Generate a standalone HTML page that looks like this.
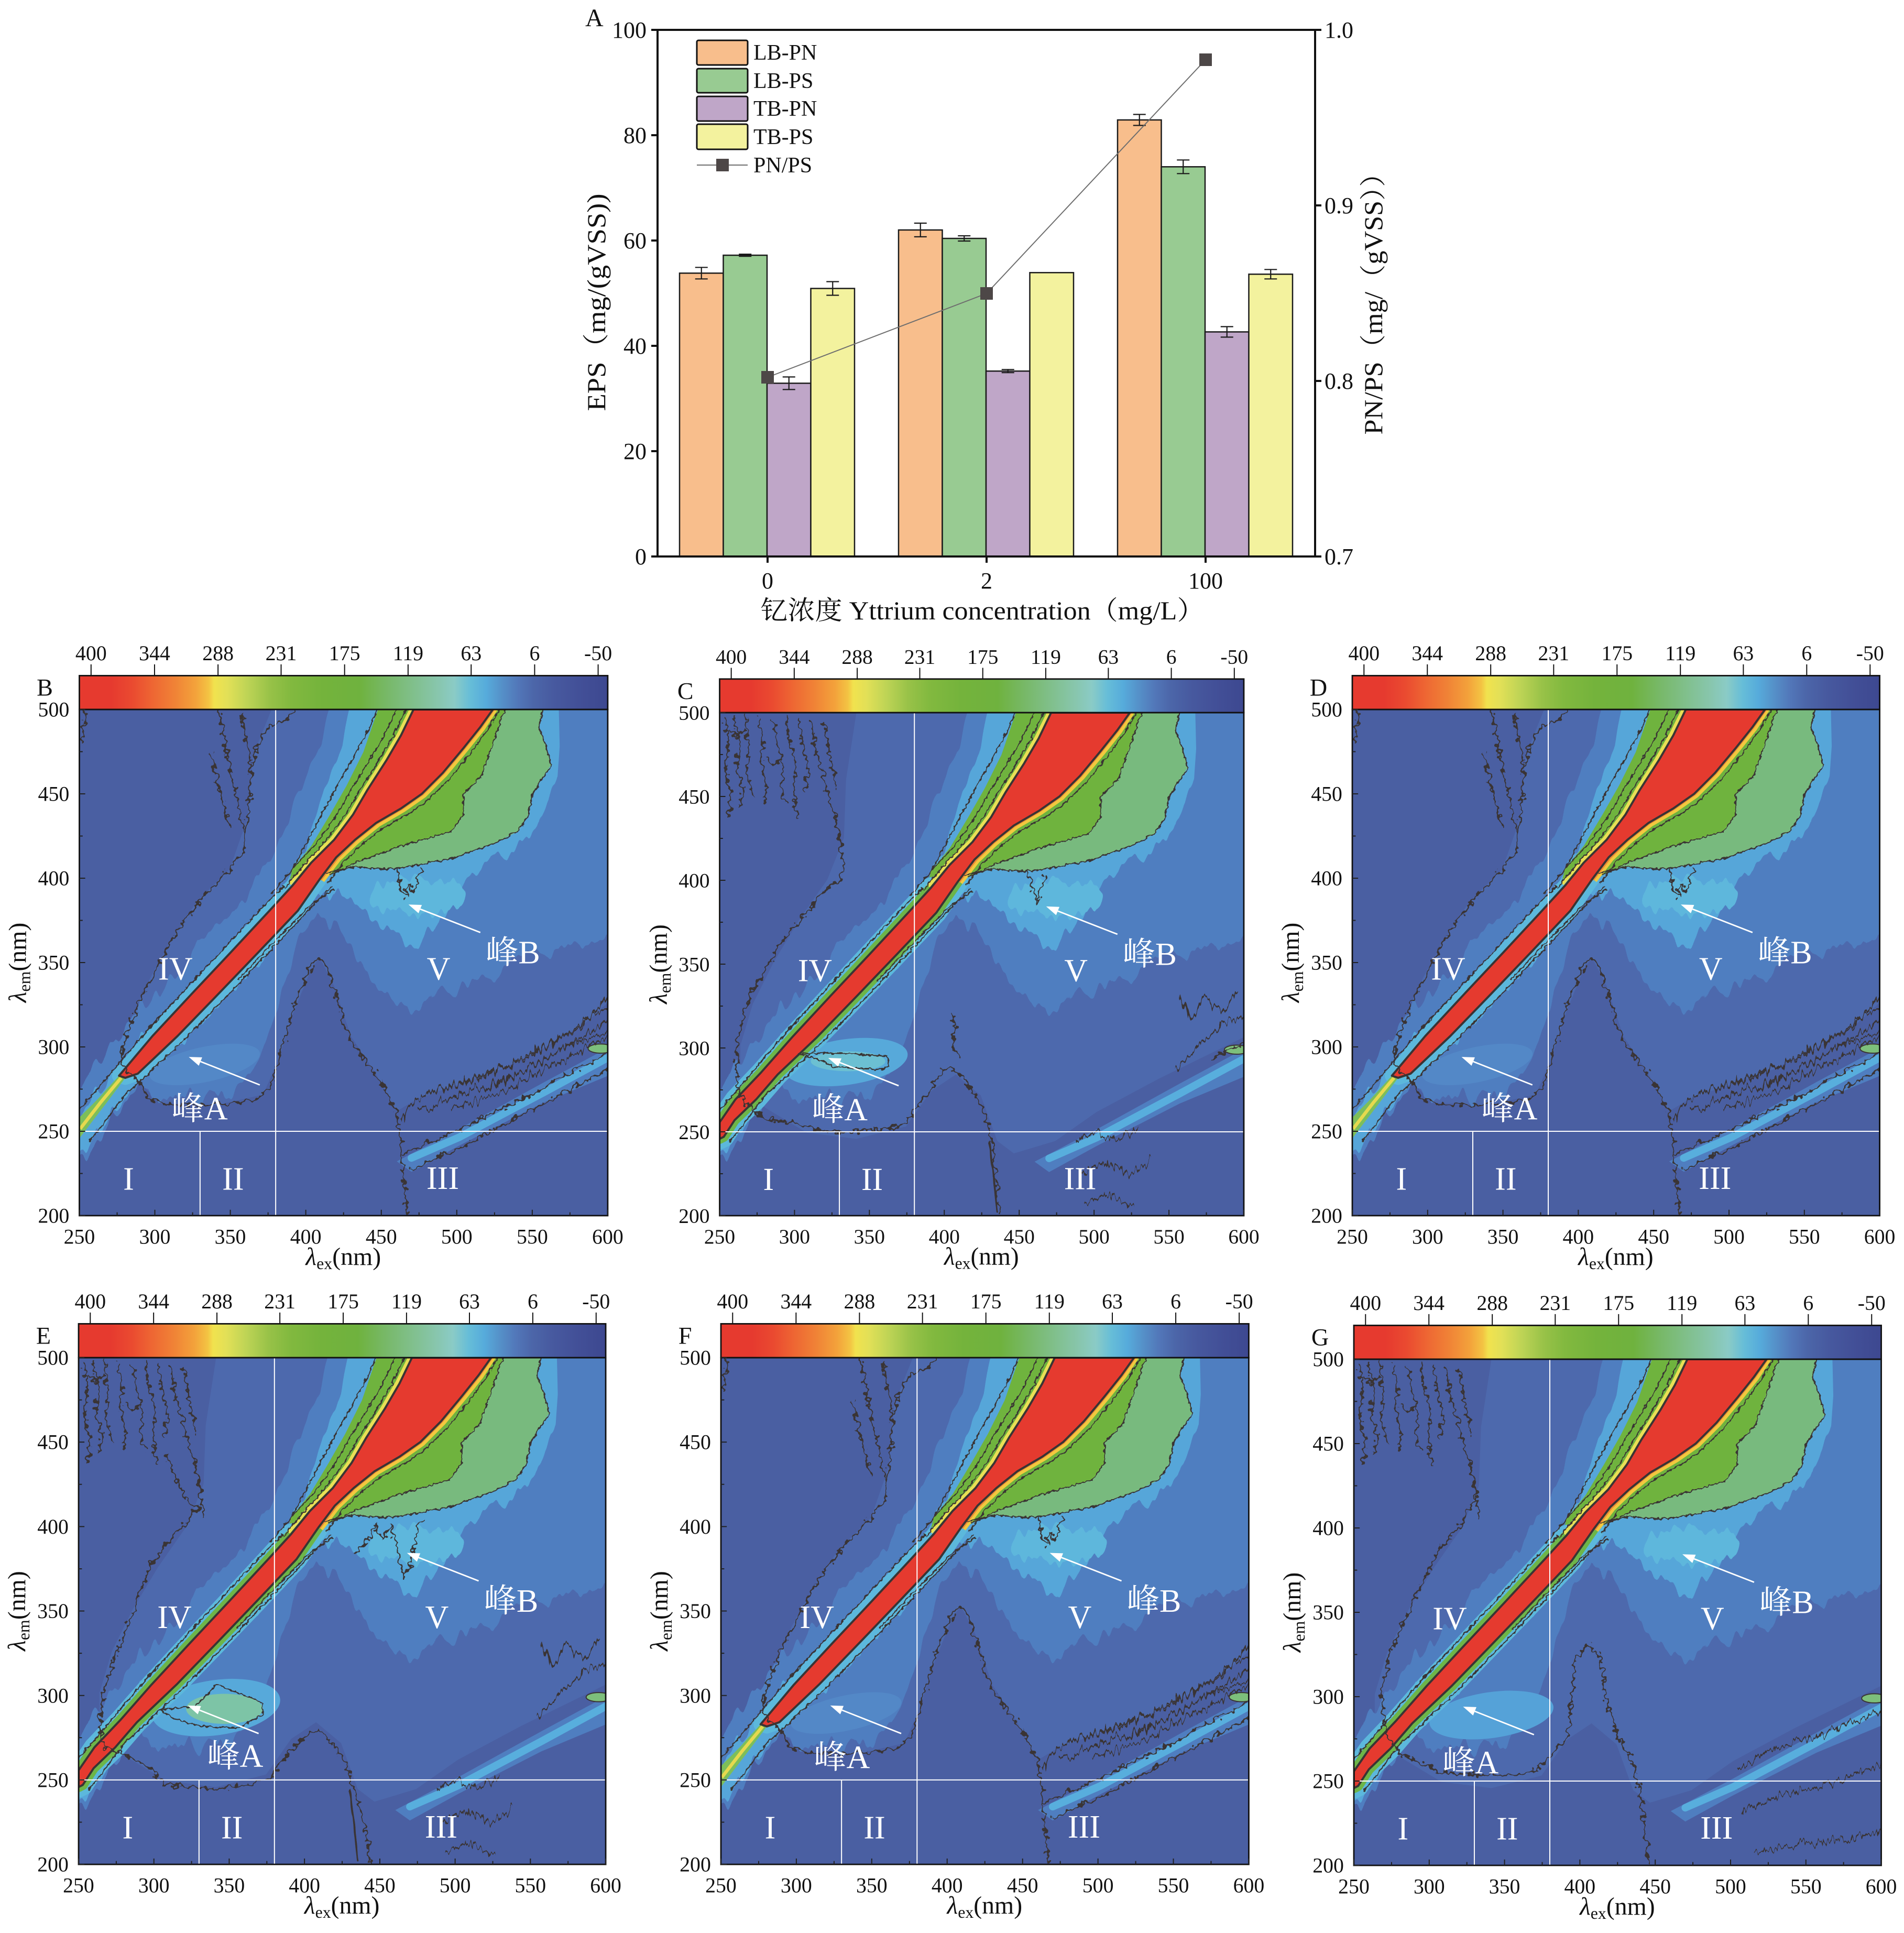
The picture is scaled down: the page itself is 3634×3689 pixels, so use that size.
<!DOCTYPE html>
<html><head><meta charset="utf-8"><style>html,body{margin:0;padding:0;background:#fff;overflow:hidden}svg{display:block}</style></head>
<body>
<svg xmlns="http://www.w3.org/2000/svg" width="3634" height="3689" viewBox="0 0 3634 3689">
<defs>
<linearGradient id="cb" x1="0" x2="1" y1="0" y2="0">
<stop offset="0" stop-color="#E63A2F"/><stop offset="0.06" stop-color="#E63A2F"/><stop offset="0.10" stop-color="#EA4A30"/><stop offset="0.14" stop-color="#EE6733"/><stop offset="0.18" stop-color="#F08236"/><stop offset="0.22" stop-color="#F3A23B"/><stop offset="0.245" stop-color="#F3C443"/><stop offset="0.255" stop-color="#F1E24E"/><stop offset="0.28" stop-color="#E2E057"/><stop offset="0.32" stop-color="#BCD355"/><stop offset="0.36" stop-color="#98C248"/><stop offset="0.40" stop-color="#82B93F"/><stop offset="0.46" stop-color="#74B33C"/><stop offset="0.53" stop-color="#6FB23E"/><stop offset="0.58" stop-color="#77B866"/><stop offset="0.63" stop-color="#80BF8A"/><stop offset="0.68" stop-color="#88C6AE"/><stop offset="0.71" stop-color="#8ACBC6"/><stop offset="0.74" stop-color="#66BDD8"/><stop offset="0.77" stop-color="#56ABDB"/><stop offset="0.80" stop-color="#5590C8"/><stop offset="0.83" stop-color="#5277B9"/><stop offset="0.86" stop-color="#4C66A9"/><stop offset="0.90" stop-color="#47599F"/><stop offset="0.95" stop-color="#424F97"/><stop offset="1" stop-color="#3D4890"/>
</linearGradient>
<filter id="streak" filterUnits="userSpaceOnUse" x="150" y="150" width="1400" height="1350" color-interpolation-filters="sRGB">
<feTurbulence type="fractalNoise" baseFrequency="0.04 0.003" numOctaves="2" seed="4" result="n"/>
<feColorMatrix in="n" type="matrix" values="0 0 0 0 0.5  0 1 0 0 0  0 0 0 0 0  0 0 0 0 1" result="m"/>
<feDisplacementMap in="SourceGraphic" in2="m" scale="80" xChannelSelector="R" yChannelSelector="G"/>
</filter>
<filter id="jag" filterUnits="userSpaceOnUse" x="100" y="100" width="1500" height="1450" color-interpolation-filters="sRGB">
<feTurbulence type="fractalNoise" baseFrequency="0.1" numOctaves="2" seed="9" result="n"/>
<feDisplacementMap in="SourceGraphic" in2="n" scale="10" xChannelSelector="R" yChannelSelector="G"/>
</filter>
<filter id="jag2" filterUnits="userSpaceOnUse" x="100" y="100" width="1500" height="1450" color-interpolation-filters="sRGB">
<feTurbulence type="fractalNoise" baseFrequency="0.07" numOctaves="2" seed="11" result="n"/>
<feDisplacementMap in="SourceGraphic" in2="n" scale="26" xChannelSelector="R" yChannelSelector="G"/>
</filter>
<filter id="spike" filterUnits="userSpaceOnUse" x="100" y="100" width="1500" height="1450" color-interpolation-filters="sRGB">
<feTurbulence type="fractalNoise" baseFrequency="0.12 0.02" numOctaves="2" seed="5" result="n"/>
<feColorMatrix in="n" type="matrix" values="0 0 0 0 0.5  0 1 0 0 0  0 0 0 0 0  0 0 0 0 1" result="m"/>
<feDisplacementMap in="SourceGraphic" in2="m" scale="45" xChannelSelector="R" yChannelSelector="G"/>
</filter>
<clipPath id="pc"><rect x="190" y="218" width="1265" height="1212"/></clipPath>

<polygon id="rA1" fill="#4D69AD" points="650,218 605,330 592,480 550,600 470,680 410,770 360,860 320,950 295,1040 335,1110 380,1160 520,1165 630,1140 665,1060 700,950 745,840 765,812 800,880 840,1000 900,1090 950,1180 1000,1150 1100,1115 1200,1080 1300,1030 1400,970 1455,920 1455,218"/>
<polygon id="rA2" fill="#4D69AD" points="520,218 495,380 490,520 450,620 380,720 320,820 270,920 240,1020 240,1110 300,1170 400,1230 520,1245 640,1215 700,1130 760,1090 820,1140 860,1250 900,1280 1000,1250 1100,1180 1250,1100 1455,1000 1455,218"/>

<g id="glows" filter="url(#streak)">
<polygon fill="#4F7EC0" points="190,1120 240,1050 300,980 380,890 470,790 560,700 620,620 660,540 700,450 740,360 770,290 795,180 1480,180 1480,760 1300,800 1150,860 1000,930 960,940 900,880 850,800 800,720 760,705 720,770 690,860 660,950 630,1040 600,1100 560,1140 450,1150 380,1140 340,1120 300,1160 260,1210 230,1260 190,1290"/>
<polygon fill="#56A6D9" points="190,1185 250,1110 320,1030 400,945 490,850 580,755 650,680 700,600 740,520 760,460 790,380 820,300 848,180 1337,180 1340,300 1335,370 1310,430 1290,500 1240,540 1200,570 1130,600 1100,660 1060,720 1010,770 970,790 930,750 880,700 820,665 780,655 740,680 700,720 650,780 590,850 520,925 450,1000 390,1060 340,1110 290,1160 250,1210 215,1250 190,1280"/>
<ellipse cx="1000" cy="665" rx="115" ry="45" fill="#5EB7DC"/>
</g>

<g id="str3">
<polygon fill="#4F7EC0" points="950,1300 1100,1222 1300,1112 1480,1015 1480,1085 1300,1160 1100,1262 985,1325"/>
<polyline fill="none" stroke="#58AEDD" stroke-width="18" stroke-linecap="round" points="985,1292 1100,1242 1300,1136 1455,1052"/>
<ellipse cx="1438" cy="1030" rx="30" ry="11" fill="#7DBF7B" stroke="#3A3434" stroke-width="2.5"/>
</g>

<g id="greens">
<polygon fill="#78BA7E" points="1210,218 1300,218 1290,260 1305,300 1320,350 1300,380 1275,420 1265,470 1240,510 1180,540 1080,575 1000,590 960,597 920,600 850,595 780,610 850,585 960,545 1080,510 1110,470 1110,420 1150,380 1180,300 1200,240"/>
<polygon fill="#6FB33E" points="765,625 805,572 850,530 900,490 960,455 1010,420 1060,370 1110,310 1150,260 1180,218 1210,218 1200,240 1180,300 1150,380 1110,420 1110,470 1080,510 960,545 850,585 790,615"/>
<polygon fill="#6FB33E" points="905,218 990,218 960,280 925,340 880,410 845,470 800,530 745,585 700,635 690,640 700,600 745,545 790,470 830,400 870,320"/>
</g>

<g id="wedgeY" fill="none">
<polyline stroke="#F1C93F" stroke-width="10" points="772,628 812,576 856,534 906,494 966,459 1016,424 1066,374 1116,314 1156,264 1186,218"/>
<polyline stroke="#EE8A35" stroke-width="5" points="768,626 808,574 852,531 902,491 962,456 1012,421 1062,371 1112,311 1152,261 1182,218"/>
<polyline stroke="#E9DF55" stroke-width="8" points="694,636 739,582 794,528 839,468 874,408 919,338 954,278 984,218"/>
</g>

<g id="redS">
<polygon fill="none" stroke="#5CB8DC" stroke-width="34" stroke-linejoin="round" points="285,1095 365,1000 458,900 552,800 645,700 700,640 765,625 713,700 618,800 522,900 425,1000 330,1090 300,1100"/>
<use href="#wedgeY"/>
<polygon fill="#7DBE5A" points="190,1195 235,1150 285,1095 300,1100 255,1160 205,1225 190,1245"/>
<polyline fill="none" stroke="#E6D94E" stroke-width="8" points="192,1222 240,1160 290,1100"/>
<polygon fill="#E53A2F" stroke="#3A3434" stroke-width="5" stroke-linejoin="round" points="285,1095 365,1000 458,900 552,800 645,700 700,640 745,585 800,530 845,470 880,410 925,340 960,280 990,218 1180,218 1150,260 1110,310 1060,370 1010,420 960,455 900,490 850,530 805,572 765,625 713,700 618,800 522,900 425,1000 330,1090 300,1100"/>
</g>

<g id="redF">
<polygon fill="none" stroke="#5CB8DC" stroke-width="50" stroke-linejoin="round" points="190,1205 228,1150 290,1085 365,1000 458,900 552,800 645,700 700,640 765,625 713,700 618,800 522,900 425,1000 330,1090 278,1150 226,1200 200,1240 190,1245"/>
<polygon fill="none" stroke="#6DB548" stroke-width="24" stroke-linejoin="round" points="190,1205 228,1150 290,1085 365,1000 458,900 552,800 645,700 700,640 765,625 713,700 618,800 522,900 425,1000 330,1090 278,1150 226,1200 200,1240 190,1245"/>
<use href="#wedgeY"/>
<polygon fill="#E53A2F" stroke="#3A3434" stroke-width="5" stroke-linejoin="round" points="190,1205 228,1150 290,1085 365,1000 458,900 552,800 645,700 700,640 745,585 800,530 845,470 880,410 925,340 960,280 990,218 1180,218 1150,260 1110,310 1060,370 1010,420 960,455 900,490 850,530 805,572 765,625 713,700 618,800 522,900 425,1000 330,1090 278,1150 226,1200 200,1240 190,1245"/>
</g>

<g id="wc" fill="none" stroke="#3A3434" stroke-width="3" stroke-linejoin="round" filter="url(#jag)">
<polyline points="682,646 727,590 782,530 827,470 862,410 907,340 942,280 972,218"/>
<polyline points="700,600 760,535 805,472 840,410 885,340 920,280 950,218"/>
<polyline points="650,660 700,600 730,545 770,470 805,405 845,335 880,270 905,218"/>
<polyline points="784,636 822,584 868,540 918,502 978,468 1028,432 1078,382 1128,320 1166,268 1196,218"/>
<polyline points="790,615 850,585 960,545 1080,510 1110,470 1110,420 1150,380 1180,300 1200,240 1210,218"/>
<polyline points="780,610 850,595 920,600 960,597 1000,590 1080,575 1180,540 1240,510 1265,470 1275,420 1300,380 1320,350 1305,300 1290,260 1300,218"/>
<polyline points="190,1175 260,1095 340,1000 433,900 527,800 620,700 680,640"/>
<polyline points="215,1252 300,1140 355,1090 450,1000 547,900 643,800 738,700 795,640"/>
<polyline points="570,865 660,770 745,685 800,648"/>
</g>

<g id="cB" fill="none" stroke="#3A3434" stroke-width="4" stroke-linejoin="round">
<g filter="url(#jag2)">
<polyline points="705,218 690,240 640,262 618,300 602,360 596,430 590,500 582,560 540,610 490,662 450,712 410,772 380,832 345,892 320,952 300,1002 292,1052 300,1082 335,1110 355,1150 400,1165 480,1165 560,1160 620,1150 650,1120 665,1060 690,980 705,920 725,880 745,830 765,815 780,830 790,860 810,920 830,990 860,1040 900,1090 930,1140 950,1190 960,1250 965,1330 975,1430"/>
<polyline points="525,225 540,300 555,380 572,450 588,520"/>
<polyline points="505,320 518,380 535,440 548,500"/>
<polyline points="580,225 590,300 600,360"/>
<polyline points="195,300 200,260 205,218"/>
<polyline points="960,1285 1100,1225 1300,1125 1455,1040"/>
<polyline points="985,1318 1100,1268 1300,1162 1455,1078"/>
<polyline points="950,600 958,640 970,668 980,635 990,655 1000,625 1008,598"/>
</g>
<g filter="url(#spike)">
<polyline points="960,1200 1000,1150 1050,1130 1100,1115 1150,1100 1200,1080 1250,1060 1300,1030 1350,1000 1400,970 1455,900"/>
<polyline points="1000,1180 1100,1140 1200,1110 1300,1060 1400,1000 1455,960"/>
<polyline points="1050,1160 1150,1125 1250,1085 1350,1030 1455,990"/>
<polyline points="1020,1140 1120,1105 1220,1070 1320,1015 1420,950 1455,930"/>
<polyline points="1080,1175 1180,1140 1280,1095 1380,1040 1455,1005"/>
</g>
</g>

<g id="ntl">
<polyline points="200,230 212,290 204,350 218,420 210,470"/>
<polyline points="225,228 236,288 230,348 246,400 240,450"/>
<polyline points="252,228 262,305 256,358 270,420"/>
<polyline points="285,232 296,288 290,348 304,400 298,440"/>
<polyline points="318,232 328,288 344,348 338,400 350,440"/>
<polyline points="350,228 360,298 374,338 368,420 380,470"/>
<polyline points="380,228 392,298 404,350 398,410"/>
<polyline points="410,238 420,300 440,360 452,420 470,470 482,540 492,600"/>
<polyline points="440,240 452,300 462,350 470,400"/>
<polyline points="210,260 230,275 250,262"/>
<polyline points="300,330 320,345 340,330"/>
</g>

<g id="lowNoise">
<polyline points="840,1250 850,1330 860,1420"/>
<polyline points="1050,1250 1100,1230 1150,1250 1200,1220"/>
<polyline points="1060,1330 1120,1300 1180,1330 1230,1300"/>
<polyline points="1070,1400 1130,1380 1190,1410"/>
<polyline points="1290,1080 1350,1020 1400,970 1455,950"/>
<polyline points="1300,900 1330,960 1360,900 1400,940 1440,890"/>
</g>

<g id="cC" fill="none" stroke="#3A3434" stroke-width="4" stroke-linejoin="round">
<g filter="url(#jag2)">
<use href="#ntl"/>
<polyline points="490,600 470,630 430,660 400,700 360,745 320,800 290,855 262,900 245,960 232,1020 230,1080 235,1130 260,1170 300,1195 360,1205 420,1220 480,1230 540,1225 600,1220 640,1205 680,1150 710,1110 730,1080 750,1075 770,1090 800,1130 825,1170 845,1240 855,1330 865,1430"/>
<polyline points="935,600 945,640 955,680 965,650 975,610"/>
<polyline points="748,940 760,980 752,1020 765,1050"/>
<polyline points="1380,1050 1420,1030 1455,1015"/>
</g>
<path filter="url(#jag)" stroke-width="3" d="M380,1040 L440,1038 520,1040 595,1045 598,1070 580,1078 520,1075 465,1072 440,1058 400,1045 Z"/>
<g filter="url(#spike)"><use href="#lowNoise"/></g>
</g>

<g id="cE" fill="none" stroke="#3A3434" stroke-width="4" stroke-linejoin="round">
<g filter="url(#jag2)">
<use href="#ntl"/>
<polyline points="400,450 420,500 450,560 480,580"/>
<polyline points="480,575 440,620 400,665 360,720 330,800 300,880 270,950 250,1020 240,1100 250,1150 300,1165 360,1200 400,1240 500,1250 600,1240 650,1222 700,1155 740,1118 770,1110 800,1140 830,1185 850,1250 880,1350 890,1430"/>
<polyline points="850,690 880,660 900,620 920,650 940,620 960,700 970,745 990,700 1000,650 1010,610 1020,600"/>
</g>
<path filter="url(#jag)" stroke-width="3" d="M385,1060 L470,1052 500,1022 520,1000 600,1030 632,1045 632,1072 600,1088 580,1102 520,1102 470,1097 420,1082 Z"/>
<g filter="url(#spike)"><use href="#lowNoise"/></g>
</g>

<g id="cG" fill="none" stroke="#3A3434" stroke-width="4" stroke-linejoin="round">
<g filter="url(#jag2)">
<use href="#ntl"/>
<polyline points="490,542 441,620 392,678 353,756 315,834 276,922 256,1019 266,1117 305,1165 353,1185 392,1204 470,1214 568,1214 626,1204 665,1165 704,1117 723,932 752,902 782,932 791,1019 821,1117 859,1185 879,1263 898,1428"/>
</g>
<g filter="url(#spike)">
<polyline points="1110,1200 1200,1150 1300,1120 1400,1080 1455,1060"/>
<polyline points="1120,1300 1220,1260 1320,1240 1420,1200 1455,1190"/>
<polyline points="1150,1400 1250,1380 1350,1370 1455,1350"/>
</g>
</g>

<g id="frame" font-family="'Liberation Serif','Noto Serif CJK SC',serif">
<rect x="190" y="137" width="1265" height="81" fill="url(#cb)" stroke="#111" stroke-width="3.5"/>
<path d="M218,137V110M370,137V110M522,137V110M673,137V110M825,137V110M977,137V110M1128,137V110M1280,137V110M1432,137V110" stroke="#111" stroke-width="2.5" fill="none"/>
<g font-size="50" text-anchor="middle" fill="#111">
<text x="218" y="100">400</text><text x="370" y="100">344</text><text x="522" y="100">288</text><text x="673" y="100">231</text><text x="825" y="100">175</text><text x="977" y="100">119</text><text x="1128" y="100">63</text><text x="1280" y="100">6</text><text x="1432" y="100">-50</text>
</g>
<path d="M660,218V1430M190,1228H1455M479,1228V1430" stroke="#fff" stroke-width="2.5" fill="none"/>
<rect x="190" y="218" width="1265" height="1212" fill="none" stroke="#111" stroke-width="3.5"/>
<path d="M190,218h14M190,420h14M190,622h14M190,824h14M190,1026h14M190,1228h14M190,1430h14M190,319h8M190,521h8M190,723h8M190,925h8M190,1127h8M190,1329h8M190,1430v-14M370.7,1430v-14M551.4,1430v-14M732.1,1430v-14M912.9,1430v-14M1093.6,1430v-14M1274.3,1430v-14M1455,1430v-14M280.4,1430v-8M461.1,1430v-8M641.8,1430v-8M822.5,1430v-8M1003.2,1430v-8M1184,1430v-8M1364.6,1430v-8" stroke="#222" stroke-width="2.5" fill="none"/>
<g font-size="50" text-anchor="end" fill="#111">
<text x="166" y="235">500</text><text x="166" y="437">450</text><text x="166" y="639">400</text><text x="166" y="841">350</text><text x="166" y="1043">300</text><text x="166" y="1245">250</text><text x="166" y="1447">200</text>
</g>
<g font-size="50" text-anchor="middle" fill="#111">
<text x="190" y="1497">250</text><text x="370.7" y="1497">300</text><text x="551.4" y="1497">350</text><text x="732.1" y="1497">400</text><text x="912.9" y="1497">450</text><text x="1093.6" y="1497">500</text><text x="1274.3" y="1497">550</text><text x="1455" y="1497">600</text>
</g>
<text transform="translate(62,824) rotate(-90)" text-anchor="middle" font-size="60" fill="#111"><tspan font-style="italic">λ</tspan><tspan font-size="40" dy="10">em</tspan><tspan dy="-10">(nm)</tspan></text>
<text x="822" y="1548" text-anchor="middle" font-size="60" fill="#111"><tspan font-style="italic">λ</tspan><tspan font-size="40" dy="10">ex</tspan><tspan dy="-10">(nm)</tspan></text>
<g fill="#fff" font-size="78" text-anchor="middle">
<text x="420" y="865">IV</text><text x="1050" y="865">V</text><text x="1228" y="826">峰B</text><text x="308" y="1368">I</text><text x="558" y="1368">II</text><text x="1060" y="1366">III</text>
</g>
<path d="M1150,752L1006,696M622,1117L480,1061" stroke="#fff" stroke-width="3.5" fill="none"/>
<polygon fill="#fff" points="978,685 1010,686 1002,706"/>
<polygon fill="#fff" points="452,1050 484,1051 476,1071"/>
</g>
</defs>

<!-- ============ Chart A ============ -->
<g font-family="'Liberation Serif','Noto Serif CJK SC',serif" fill="#111">
<g stroke="#1a1a1a" stroke-width="2.5">
<rect x="1297" y="521.3" width="83.5" height="540.7" fill="#F8BE8C"/>
<rect x="1380.5" y="487.1" width="83.5" height="574.9" fill="#98CB92"/>
<rect x="1464" y="731.4" width="83.5" height="330.6" fill="#BFA6C8"/>
<rect x="1547.5" y="550.5" width="83.5" height="511.5" fill="#F3F29E"/>
<rect x="1715" y="438.9" width="83.5" height="623.1" fill="#F8BE8C"/>
<rect x="1798.5" y="455" width="83.5" height="607" fill="#98CB92"/>
<rect x="1882" y="708.2" width="83.5" height="353.8" fill="#BFA6C8"/>
<rect x="1965.5" y="520.3" width="83.5" height="541.7" fill="#F3F29E"/>
<rect x="2133" y="228.9" width="83.5" height="833.1" fill="#F8BE8C"/>
<rect x="2216.5" y="318.3" width="83.5" height="743.7" fill="#98CB92"/>
<rect x="2300" y="633.4" width="83.5" height="428.6" fill="#BFA6C8"/>
<rect x="2383.5" y="523.3" width="83.5" height="538.7" fill="#F3F29E"/>
</g>
<path fill="none" stroke="#1a1a1a" stroke-width="2.2" d="
M1338.75,510.3V532.3M1326.75,510.3h24M1326.75,532.3h24
M1422.25,485.1V489.1M1410.25,485.1h24M1410.25,489.1h24
M1505.75,719.4V743.4M1493.75,719.4h24M1493.75,743.4h24
M1589.25,537.5V563.5M1577.25,537.5h24M1577.25,563.5h24
M1756.75,425.9V451.9M1744.75,425.9h24M1744.75,451.9h24
M1840.25,450V460M1828.25,450h24M1828.25,460h24
M1923.75,705.2V711.2M1911.75,705.2h24M1911.75,711.2h24
M2174.75,218.4V239.4M2162.75,218.4h24M2162.75,239.4h24
M2258.25,305.3V331.3M2246.25,305.3h24M2246.25,331.3h24
M2341.75,623.4V643.4M2329.75,623.4h24M2329.75,643.4h24
M2425.25,514.3V532.3M2413.25,514.3h24M2413.25,532.3h24"/>
<polyline fill="none" stroke="#6E6E6E" stroke-width="2" points="1465,720 1883,560 2301,114"/>
<rect x="1453" y="708" width="24" height="24" fill="#4D4747"/>
<rect x="1871" y="548" width="24" height="24" fill="#4D4747"/>
<rect x="2289" y="102" width="24" height="24" fill="#4D4747"/>
<rect x="1255" y="57" width="1255" height="1005" fill="none" stroke="#111" stroke-width="4"/>
<path stroke="#111" stroke-width="4" fill="none" d="M1243,1062H1255M1243,861H1255M1243,660H1255M1243,459H1255M1243,258H1255M1243,57H1255M2510,1062H2522M2510,727H2522M2510,392H2522M2510,57H2522M1465,1062V1074M1883,1062V1074M2301,1062V1074"/>
<g font-size="44" text-anchor="end">
<text x="1234" y="1077">0</text><text x="1234" y="876">20</text><text x="1234" y="675">40</text><text x="1234" y="474">60</text><text x="1234" y="273">80</text><text x="1234" y="72">100</text>
</g>
<g font-size="44">
<text x="2528" y="1077">0.7</text><text x="2528" y="742">0.8</text><text x="2528" y="407">0.9</text><text x="2528" y="72">1.0</text>
</g>
<g font-size="44" text-anchor="middle">
<text x="1465" y="1123">0</text><text x="1883" y="1123">2</text><text x="2301" y="1123">100</text>
</g>
<text x="1875" y="1182" text-anchor="middle" font-size="50" textLength="847" lengthAdjust="spacingAndGlyphs">钇浓度 Yttrium concentration（mg/L）</text>
<text transform="translate(1155,577) rotate(-90)" text-anchor="middle" font-size="50" textLength="415" lengthAdjust="spacingAndGlyphs">EPS（mg/(gVSS))</text>
<text transform="translate(2638,567) rotate(-90)" text-anchor="middle" font-size="50" textLength="525" lengthAdjust="spacingAndGlyphs">PN/PS（mg/（gVSS））</text>
<text x="1117" y="50" font-size="48">A</text>
<g stroke="#111" stroke-width="3">
<rect x="1330" y="77" width="97" height="47" rx="3" fill="#F8BE8C"/>
<rect x="1330" y="131" width="97" height="46" rx="3" fill="#98CB92"/>
<rect x="1330" y="184" width="97" height="47" rx="3" fill="#BFA6C8"/>
<rect x="1330" y="237" width="97" height="48" rx="3" fill="#F3F29E"/>
</g>
<line x1="1330" y1="315" x2="1427" y2="315" stroke="#6E6E6E" stroke-width="2"/>
<rect x="1367" y="303" width="24" height="24" fill="#4D4747"/>
<g font-size="42">
<text x="1438" y="114">LB-PN</text><text x="1438" y="168">LB-PS</text><text x="1438" y="221">TB-PN</text><text x="1438" y="275">TB-PS</text><text x="1438" y="329">PN/PS</text>
</g>
</g>

<!-- ============ Panel B ============ -->
<g transform="matrix(0.7972,0,0,0.7970,0,1180.25)">
<g clip-path="url(#pc)">
<rect x="190" y="218" width="1265" height="1212" fill="#4A5FA2"/>
<use href="#rA1"/><use href="#glows"/>
<ellipse cx="490" cy="1068" rx="135" ry="42" transform="rotate(-12 490 1068)" fill="#5388C7"/>
<use href="#str3"/><use href="#greens"/><use href="#redS"/><use href="#wc"/><use href="#cB"/>
</g>
<use href="#frame"/>
<text x="478" y="1200" text-anchor="middle" font-size="78" fill="#fff" font-family="'Liberation Serif','Noto Serif CJK SC',serif">峰A</text>
<text x="88" y="185" font-size="58" fill="#111" font-family="'Liberation Serif',serif">B</text>
</g>

<!-- ============ Panel C ============ -->
<g transform="matrix(0.7909,0,0,0.7921,1223.23,1187.32)">
<g clip-path="url(#pc)">
<rect x="190" y="218" width="1265" height="1212" fill="#4A5FA2"/>
<use href="#rA2"/><use href="#glows"/>
<ellipse cx="495" cy="1060" rx="150" ry="55" transform="rotate(-8 495 1060)" fill="#57A9DA"/>
<ellipse cx="500" cy="1058" rx="90" ry="24" fill="#6CC0D2"/>
<use href="#str3"/><use href="#greens"/><use href="#redF"/><use href="#wc"/><use href="#cC"/>
</g>
<use href="#frame"/>
<text x="480" y="1200" text-anchor="middle" font-size="78" fill="#fff" font-family="'Liberation Serif','Noto Serif CJK SC',serif">峰A</text>
<text x="88" y="185" font-size="58" fill="#111" font-family="'Liberation Serif',serif">C</text>
</g>

<!-- ============ Panel D ============ -->
<g transform="matrix(0.7957,0,0,0.7970,2429.83,1180.25)">
<g clip-path="url(#pc)">
<rect x="190" y="218" width="1265" height="1212" fill="#4A5FA2"/>
<use href="#rA1"/><use href="#glows"/>
<ellipse cx="490" cy="1068" rx="135" ry="42" transform="rotate(-12 490 1068)" fill="#5388C7"/>
<use href="#str3"/><use href="#greens"/><use href="#redS"/><use href="#wc"/><use href="#cB"/>
</g>
<use href="#frame"/>
<text x="567" y="1200" text-anchor="middle" font-size="78" fill="#fff" font-family="'Liberation Serif','Noto Serif CJK SC',serif">峰A</text>
<text x="88" y="185" font-size="58" fill="#111" font-family="'Liberation Serif',serif">D</text>
</g>

<!-- ============ Panel E ============ -->
<g transform="matrix(0.7953,0,0,0.7979,-1.10,2417.06)">
<g clip-path="url(#pc)">
<rect x="190" y="218" width="1265" height="1212" fill="#4A5FA2"/>
<use href="#rA2"/><use href="#glows"/>
<ellipse cx="520" cy="1055" rx="155" ry="66" transform="rotate(-8 520 1055)" fill="#57A9DA"/>
<ellipse cx="540" cy="1058" rx="92" ry="36" fill="#7DC4A6"/>
<use href="#str3"/><use href="#greens"/><use href="#redF"/><use href="#wc"/><use href="#cE"/>
</g>
<use href="#frame"/>
<text x="566" y="1197" text-anchor="middle" font-size="78" fill="#fff" font-family="'Liberation Serif','Noto Serif CJK SC',serif">峰A</text>
<text x="88" y="185" font-size="58" fill="#111" font-family="'Liberation Serif',serif">E</text>
</g>

<!-- ============ Panel F ============ -->
<g transform="matrix(0.7964,0,0,0.7979,1224.68,2417.06)">
<g clip-path="url(#pc)">
<rect x="190" y="218" width="1265" height="1212" fill="#4A5FA2"/>
<use href="#rA1"/><use href="#glows"/>
<ellipse cx="490" cy="1068" rx="135" ry="42" transform="rotate(-12 490 1068)" fill="#5388C7"/>
<use href="#str3"/><use href="#greens"/><use href="#redS"/><use href="#wc"/><use href="#cB"/>
</g>
<use href="#frame"/>
<text x="480" y="1200" text-anchor="middle" font-size="78" fill="#fff" font-family="'Liberation Serif','Noto Serif CJK SC',serif">峰A</text>
<text x="88" y="185" font-size="58" fill="#111" font-family="'Liberation Serif',serif">F</text>
</g>

<!-- ============ Panel G ============ -->
<g transform="matrix(0.7957,0,0,0.7970,2432.82,2420.25)">
<g clip-path="url(#pc)">
<rect x="190" y="218" width="1265" height="1212" fill="#4A5FA2"/>
<use href="#rA2"/><use href="#glows"/>
<ellipse cx="520" cy="1070" rx="150" ry="55" transform="rotate(-8 520 1070)" fill="#55A2D8"/>
<use href="#str3"/><use href="#greens"/><use href="#redF"/><use href="#wc"/><use href="#cG"/>
</g>
<use href="#frame"/>
<text x="470" y="1210" text-anchor="middle" font-size="78" fill="#fff" font-family="'Liberation Serif','Noto Serif CJK SC',serif">峰A</text>
<text x="88" y="185" font-size="58" fill="#111" font-family="'Liberation Serif',serif">G</text>
</g>
</svg>
</body></html>
